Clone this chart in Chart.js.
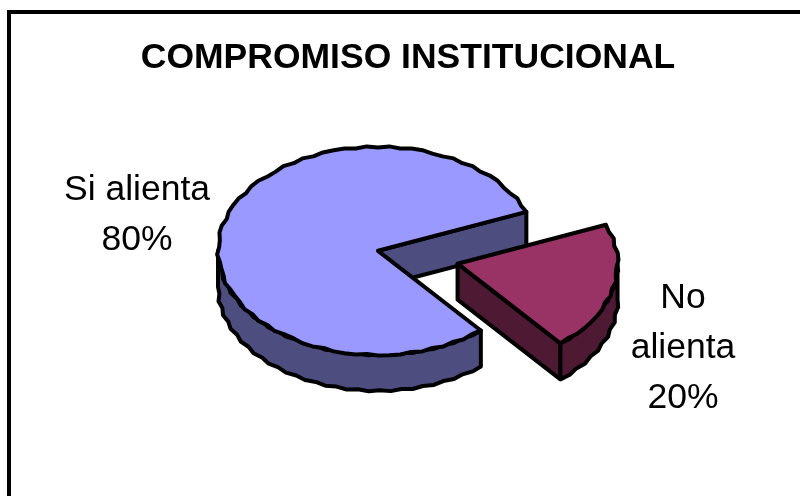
<!DOCTYPE html>
<html>
<head>
<meta charset="utf-8">
<style>
  html, body { margin: 0; padding: 0; background: #fff; }
  #box { width: 800px; height: 496px; }
</style>
<script src="https://cdn.jsdelivr.net/npm/chart.js@4"></script>
</head>
<body>
<div id="box"><canvas id="pie" width="800" height="496"></canvas></div>
<script>
const chartTitle = "COMPROMISO INSTITUCIONAL";
const labels = ["Si alienta", "No alienta"];
const values = [80, 20];
const topColors = ["#9999ff", "#993366"];
const sideColors = ["#4d4d80", "#4d1933"];
const explode = [0, 82];
const labelLines = [["Si alienta"], ["No", "alienta"]];
const labelAnchors = [[137, 200], [683, 308]];

const TILT = 0.65;       // ellipse height / width of the top face
const DEPTH = 36;        // thickness of the disc in px
const EDGE = 4;
const FONT = "Liberation Sans";
const FACET = Math.PI / 45;   // the outline is a slightly rough polygon
let tiltY = 0;

// screen position of a point on a slice, tilted around the chart centre
function toScreen(arc, angle, radius, drop) {
  const x = arc.x + Math.cos(angle) * radius;
  const y = tiltY + (arc.y - tiltY + Math.sin(angle) * radius) * TILT + drop;
  return [x, y];
}

function rimPath(ctx, arc, from, to, drop) {
  const n = Math.max(1, Math.round(Math.abs(to - from) / FACET));
  for (let k = 0; k <= n; k++) {
    const a = from + (to - from) * k / n;
    const idx = Math.round(a / FACET);
    const rough = k === 0 || k === n ? 0 : (idx % 2 ? 1 : -1);
    const p = toScreen(arc, a, arc.outerRadius + rough, drop);
    ctx.lineTo(p[0], p[1]);
  }
}

function drawWalls(ctx, arc, color) {
  ctx.fillStyle = color;
  ctx.strokeStyle = "#000";
  ctx.lineWidth = EDGE;
  ctx.lineJoin = "round";

  const start = arc.startAngle, end = arc.endAngle;
  if (Math.cos(end) > 0) cutWall(ctx, arc, end);
  if (Math.cos(start) < 0) cutWall(ctx, arc, start);

  // outer rim, only the part facing down
  [0, Math.PI * 2].forEach(base => {
    const a = Math.max(start, base), b = Math.min(end, base + Math.PI);
    if (a >= b) return;
    ctx.beginPath();
    rimPath(ctx, arc, a, b, 0);
    rimPath(ctx, arc, b, a, DEPTH);
    ctx.closePath();
    ctx.fill();
    ctx.stroke();
  });
}

function cutWall(ctx, arc, angle) {
  const a = toScreen(arc, angle, 0, 0);
  const b = toScreen(arc, angle, arc.outerRadius, 0);
  ctx.beginPath();
  ctx.moveTo(a[0], a[1]);
  ctx.lineTo(b[0], b[1]);
  ctx.lineTo(b[0], b[1] + DEPTH);
  ctx.lineTo(a[0], a[1] + DEPTH);
  ctx.closePath();
  ctx.fill();
  ctx.stroke();
}

const tiltedPie = {
  id: "tiltedPie",
  afterLayout(chart) {
    // title is centred on the frame, not on the pie
    chart.titleBlock.left = 8;
    chart.titleBlock.right = 808;
  },
  afterDatasetsUpdate(chart) {
    // pull slices out by hand, the offset option also grows their radius
    const arcs = chart.getDatasetMeta(0).data;
    tiltY = arcs[0].y;
    arcs.forEach((arc, i) => {
      const mid = (arc.startAngle + arc.endAngle) / 2;
      arc.x += Math.cos(mid) * explode[i];
      arc.y += Math.sin(mid) * explode[i];
    });
  },
  beforeDraw(chart) {
    const ctx = chart.ctx;
    ctx.save();
    ctx.strokeStyle = "#000";
    ctx.lineWidth = 4;
    ctx.strokeRect(9, 12, 820, 820);
    ctx.restore();
  },
  beforeDatasetsDraw(chart) {
    const ctx = chart.ctx;
    chart.getDatasetMeta(0).data.forEach((arc, i) => drawWalls(ctx, arc, sideColors[i]));
    ctx.save();
    ctx.translate(0, tiltY);
    ctx.scale(1, TILT);
    ctx.translate(0, -tiltY);
  },
  afterDatasetsDraw(chart) {
    const ctx = chart.ctx;
    ctx.restore();
    ctx.strokeStyle = "#000";
    ctx.lineWidth = EDGE;
    ctx.lineJoin = "round";
    chart.getDatasetMeta(0).data.forEach(arc => {
      const p = toScreen(arc, 0, 0, 0);
      ctx.beginPath();
      ctx.moveTo(p[0], p[1]);
      rimPath(ctx, arc, arc.startAngle, arc.endAngle, 0);
      ctx.closePath();
      ctx.stroke();
    });
  },
  afterDraw(chart) {
    const ctx = chart.ctx;
    ctx.save();
    ctx.fillStyle = "#000";
    ctx.font = "35.5px '" + FONT + "'";
    ctx.textAlign = "center";
    labelLines.forEach((lines, i) => {
      lines.concat(values[i] + "%").forEach((row, r) => {
        ctx.fillText(row, labelAnchors[i][0], labelAnchors[i][1] + r * 50);
      });
    });
    ctx.restore();
  }
};

new Chart(document.getElementById("pie"), {
  type: "pie",
  data: {
    labels: labels,
    datasets: [{
      data: values,
      backgroundColor: topColors,
      borderWidth: 0,
      clip: false
    }]
  },
  options: {
    responsive: false,
    animation: false,
    rotation: 140,
    radius: 160,
    layout: { padding: { left: 0, right: 44, top: 0, bottom: 74 } },
    plugins: {
      legend: { display: false },
      tooltip: { enabled: false },
      title: {
        display: true,
        text: chartTitle,
        color: "#000",
        font: { family: FONT, size: 35.5, weight: "bold" },
        padding: { top: 37, bottom: 0 }
      }
    }
  },
  plugins: [tiltedPie]
});
</script>
</body>
</html>
